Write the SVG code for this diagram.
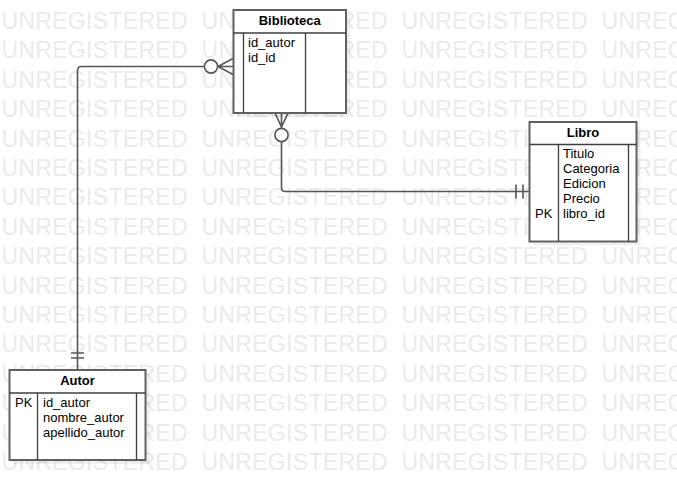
<svg xmlns="http://www.w3.org/2000/svg" width="677" height="500" viewBox="0 0 677 500">
  <style>
    .wm { font-family: "Liberation Sans", Arial, sans-serif; font-size: 23px; letter-spacing: 0.3px; fill: #ebebeb; }
    .shadow { fill: #000; opacity: 0.06; }
    .box { fill: #fff; stroke: #616161; stroke-width: 2; }
    .div { stroke: #3f3f3f; stroke-width: 1.3; fill: none; }
    .title { font-family: "Liberation Sans", Arial, sans-serif; font-size: 13px; font-weight: bold; fill: #000; text-anchor: middle; }
    .attr { font-family: "Liberation Sans", Arial, sans-serif; font-size: 13px; fill: #000; }
    .conn { fill: none; stroke: #555; stroke-width: 1.6; }
    .end { fill: #fff; stroke: #555; stroke-width: 1.6; }
  </style>
  <defs>
    <g id="wm-row">
      <text class="wm" x="1.5" y="0">UNREGISTERED</text>
      <text class="wm" x="201.5" y="0">UNREGISTERED</text>
      <text class="wm" x="401.5" y="0">UNREGISTERED</text>
      <text class="wm" x="601.5" y="0">UNREGISTERED</text>
    </g>
  </defs>

  <rect x="0" y="0" width="677" height="500" fill="#fff"/>

  <!-- background watermark -->
  <g id="watermark">
    <use href="#wm-row" y="29"/>
    <use href="#wm-row" y="58.4"/>
    <use href="#wm-row" y="87.8"/>
    <use href="#wm-row" y="117.2"/>
    <use href="#wm-row" y="146.6"/>
    <use href="#wm-row" y="176"/>
    <use href="#wm-row" y="205.4"/>
    <use href="#wm-row" y="234.8"/>
    <use href="#wm-row" y="264.2"/>
    <use href="#wm-row" y="293.6"/>
    <use href="#wm-row" y="323"/>
    <use href="#wm-row" y="352.4"/>
    <use href="#wm-row" y="381.8"/>
    <use href="#wm-row" y="411.2"/>
    <use href="#wm-row" y="440.6"/>
    <use href="#wm-row" y="470"/>
  </g>

  <!-- relationships -->
  <g id="connectors">
    <!-- Biblioteca (zero-to-many) to Autor (one) -->
    <path class="conn" d="M 204.5 66.5 H 81.5 Q 77.5 66.5 77.5 70.5 V 370"/>
    <path class="conn" d="M 233 58.5 L 218 66.5 L 233 74.5 M 217.5 66.5 H 233"/>
    <circle class="end" cx="211" cy="66.5" r="6.6"/>
    <path class="conn" d="M 71 353 H 84 M 71 358 H 84"/>

    <!-- Biblioteca (zero-to-many) to Libro (one) -->
    <path class="conn" d="M 281.5 141.5 V 187.5 Q 281.5 191.5 285.5 191.5 H 529.5"/>
    <path class="conn" d="M 275 113 L 281.5 127 L 288 113 M 281.5 113 V 128.5"/>
    <circle class="end" cx="281.5" cy="135" r="6.6"/>
    <path class="conn" d="M 516 184.5 V 198.5 M 523 184.5 V 198.5"/>
  </g>

  <!-- entity: Biblioteca -->
  <g id="biblioteca">
    <rect class="shadow" x="237.5" y="14" width="112.5" height="103"/>
    <rect class="box" x="233.5" y="10" width="112.5" height="103"/>
    <path class="div" d="M 233.5 33 H 346 M 243.5 33 V 113 M 305.5 33 V 113"/>
    <text class="title" x="289.75" y="25">Biblioteca</text>
    <text class="attr" x="248" y="47">id_autor</text>
    <text class="attr" x="248" y="62">id_id</text>
  </g>

  <!-- entity: Libro -->
  <g id="libro">
    <rect class="shadow" x="533.5" y="126" width="107" height="119.5"/>
    <rect class="box" x="529.5" y="122" width="107" height="119.5"/>
    <path class="div" d="M 529.5 144.5 H 636.5 M 558.5 144.5 V 241.5 M 628.5 144.5 V 241.5"/>
    <text class="title" x="583" y="137">Libro</text>
    <text class="attr" x="563" y="158">Titulo</text>
    <text class="attr" x="563" y="173">Categoria</text>
    <text class="attr" x="563" y="188">Edicion</text>
    <text class="attr" x="563" y="203">Precio</text>
    <text class="attr" x="535" y="218">PK</text>
    <text class="attr" x="563" y="218">libro_id</text>
  </g>

  <!-- entity: Autor -->
  <g id="autor">
    <rect class="shadow" x="13.5" y="374" width="136" height="90"/>
    <rect class="box" x="9.5" y="370" width="136" height="90"/>
    <path class="div" d="M 9.5 393 H 145.5 M 37.5 393 V 460 M 136.5 393 V 460"/>
    <text class="title" x="77.5" y="385">Autor</text>
    <text class="attr" x="15" y="407">PK</text>
    <text class="attr" x="43" y="407">id_autor</text>
    <text class="attr" x="43" y="422">nombre_autor</text>
    <text class="attr" x="43" y="437">apellido_autor</text>
  </g>
</svg>
